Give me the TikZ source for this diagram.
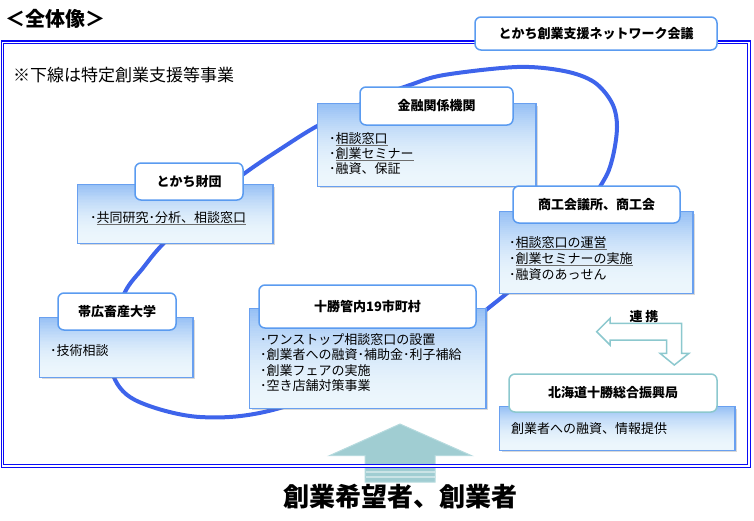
\documentclass[tikz,border=0pt]{standalone}
\usepackage{fontspec}
\setmainfont{Noto Sans CJK JP}
\usetikzlibrary{shadows,calc}
\definecolor{framecol}{RGB}{10,10,245}
\definecolor{loopcol}{RGB}{62,100,235}
\definecolor{lblborder}{RGB}{90,155,240}
\definecolor{boxborder}{RGB}{105,160,240}
\definecolor{gradtop}{RGB}{150,192,245}
\definecolor{gradbot}{RGB}{236,246,252}
\definecolor{tealline}{RGB}{140,200,206}
\definecolor{bigfill}{RGB}{160,205,210}
\definecolor{bigborder}{RGB}{182,218,222}
\definecolor{ulcol}{RGB}{110,110,110}
\newcommand{\myul}[1]{{\color{ulcol}\underline{\color{black}#1}}}
% gradient box: name, cx, cy, width, height
\newcommand{\gradbox}[5]{%
  \node[gboxframe, minimum width=#4pt, minimum height=#5pt] (#1) at (#2,#3) {};
  \foreach \i in {0,...,39} {
    \pgfmathsetmacro\p{100*(1-\i/39)^2}
    \fill[gradtop!\p!gradbot] ($(#1.north west)+(0,\i*#5/40)$) rectangle ++(#4,#5/40+0.6);
  }
  \draw[boxborder, line width=1.2pt] (#1.north west) rectangle (#1.south east);
}
\begin{document}
\begin{tikzpicture}[x=1pt,y=-1pt,
  gboxframe/.style={draw=boxborder, line width=1.2pt, fill=gradbot,
    drop shadow={shadow xshift=2pt, shadow yshift=-2pt, opacity=0.3}, inner sep=0pt},
  lbl/.style={draw=lblborder, line width=1.5pt, fill=white, rounded corners=6pt, inner sep=0pt,
    font=\fontsize{13}{15}\selectfont\bfseries},
  txt/.style={anchor=base west, inner sep=0pt, font=\fontsize{13}{15}\selectfont}]
\useasboundingbox (0,0) rectangle (754,520);

% big up arrow
\draw[fill=bigfill, draw=bigborder, line width=1pt, line join=miter]
  (400,424) -- (471.7,455.7) -- (435,455.7) -- (435,482) -- (365,482) -- (365,455.7) -- (329.3,455.7) -- cycle;
\draw[white, opacity=0.45, line width=1.5pt] (365.5,472) -- (434.5,472) (365.5,477) -- (434.5,477);

% frame
\draw[framecol, double=white, line width=1.1pt, double distance=1.6pt] (2.5,42.3) rectangle (749,466);

% title and note
\node[anchor=base west, inner sep=0pt, font=\fontsize{20}{22}\selectfont\bfseries] (title) at (5,26) {＜全体像＞};
\node[anchor=base west, inner sep=0pt, font=\fontsize{17}{19}\selectfont] (note) at (13,81.5) {※下線は特定創業支援等事業};

% loop
\draw[loopcol, line width=4pt] plot[smooth cycle, tension=0.55] coordinates {
  (370,100) (410,85) (444,75) (517,67) (564,71) (594,82) (612,103) (617,127) (612,160) (601,185)
  (560,245) (496,302) (420,355) (280,408) (200,417) (135,400) (112,372) (113,330) (125,292)
  (143,268) (162,245) (200,208) (245,173) (282,148) (319,125)};

% network label
\node[lbl, minimum width=242pt, minimum height=33pt] (net) at (596,33.5) {とかち創業支援ネットワーク会議};

% とかち財団
\gradbox{zaidan}{175.5}{214}{195}{58}
\node[lbl, minimum width=108pt, minimum height=37pt] (zaidanl) at (189,181.5) {とかち財団};
\node[txt] (zaidan1) at (90,222) {･\myul{共同研究･分析、相談窓口}};

% 金融関係機関
\gradbox{kinyu}{427}{145}{218}{82}
\node[lbl, minimum width=153pt, minimum height=38pt] (kinyul) at (436.5,106) {金融関係機関};
\node[txt] (kinyu1) at (329,143) {･\myul{相談窓口}};
\node[txt] (kinyu2) at (329,158) {･\myul{創業セミナー}};
\node[txt] (kinyu3) at (329,173) {･融資、保証};

% 商工会議所、商工会
\gradbox{shoko}{596.5}{252.5}{193}{81}
\node[lbl, minimum width=167pt, minimum height=37pt] (shokol) at (596.5,204.5) {商工会議所、商工会};
\node[txt] (shoko1) at (509,247) {･\myul{相談窓口の運営}};
\node[txt] (shoko2) at (509,263) {･\myul{創業セミナーの実施}};
\node[txt] (shoko3) at (509,279) {･融資のあっせん};

% 帯広畜産大学
\gradbox{obi}{116.5}{347.5}{153}{59}
\node[lbl, minimum width=118pt, minimum height=37pt] (obil) at (117,311.5) {帯広畜産大学};
\node[txt] (obi1) at (50,355) {･技術相談};

% 十勝管内19市町村
\gradbox{town}{368}{358.5}{236}{99}
\node[lbl, minimum width=217pt, minimum height=43pt] (townl) at (367.5,306.5) {十勝管内19市町村};
\node[txt] (town1) at (260,344) {･ワンストップ相談窓口の設置};
\node[txt] (town2) at (260,359.5) {･創業者への融資･補助金･利子補給};
\node[txt] (town3) at (260,375) {･創業フェアの実施};
\node[txt] (town4) at (260,390.5) {･空き店舗対策事業};

% 北海道十勝総合振興局
\gradbox{hok}{617.5}{428.5}{235}{43}
\node[lbl, draw=tealline, minimum width=208pt, minimum height=38pt] (hokl) at (613,393) {北海道十勝総合振興局};
\node[txt] (hok1) at (511,433) {創業者への融資、情報提供};

% 連携 arrow
\node[inner sep=0pt, font=\fontsize{13}{15}\selectfont\bfseries] (renkei) at (644,316.5) {連 携};
\draw[draw=tealline, fill=white, line width=1.5pt, line join=miter]
  (596.7,331.7) -- (610,318.3) -- (610,323.3) -- (681.7,323.3) -- (681.7,353.3) -- (689,353.3)
  -- (674.3,365) -- (660,353.3) -- (666.7,353.3) -- (666.7,340) -- (610,340) -- (610,345) -- cycle;

% bottom text
\node[anchor=base, inner sep=0pt, font=\fontsize{26}{28}\selectfont\bfseries] (who) at (400,506) {創業希望者、創業者};
\end{tikzpicture}
\end{document}
